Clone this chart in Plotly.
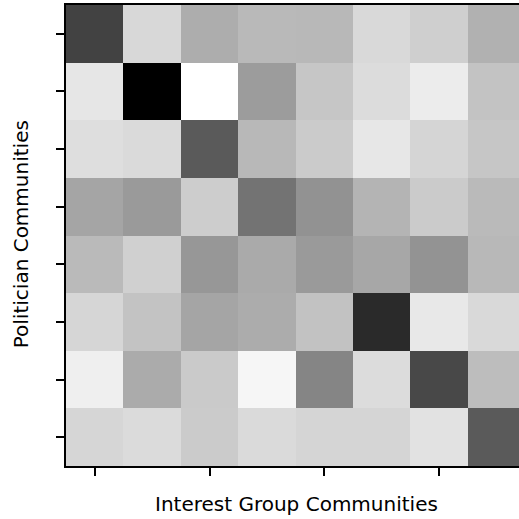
import plotly.graph_objects as go

# Gray level of each cell (0 = black, 255 = white)
row_labels = ["P0", "P1", "P2", "P3", "P4", "P5", "P6", "P7"]
col_labels = ["G0", "G1", "G2", "G3", "G4", "G5", "G6", "G7"]
row0 = [66, 216, 173, 185, 184, 217, 207, 177]
row1 = [230, 0, 255, 156, 198, 220, 236, 195]
row2 = [222, 218, 90, 184, 203, 231, 213, 198]
row3 = [165, 154, 205, 115, 146, 180, 203, 186]
row4 = [186, 208, 151, 170, 154, 167, 147, 184]
row5 = [214, 195, 165, 172, 194, 42, 232, 217]
row6 = [239, 171, 202, 246, 133, 220, 72, 189]
row7 = [214, 219, 203, 218, 213, 213, 226, 90]
x_tick_positions = [0, 2, 4, 6]
y_tick_positions = [0, 1, 2, 3, 4, 5, 6, 7]
x_title = "Interest Group Communities"
y_title = "Politician Communities"

z = [row0, row1, row2, row3, row4, row5, row6, row7]

fig = go.Figure(go.Heatmap(
    z=z,
    x=list(range(len(col_labels))),
    y=list(range(len(row_labels))),
    colorscale=[[0, "black"], [1, "white"]],
    zmin=0, zmax=255,
    showscale=False,
    hoverinfo="skip",
))

font = "DejaVu Sans"
fig.update_layout(
    width=519, height=519,
    margin=dict(l=66, r=0, t=5, b=53, autoexpand=False),
    paper_bgcolor="white", plot_bgcolor="white",
    font=dict(family=font, color="black"),
)
fig.update_xaxes(
    range=[-0.5, 7.39], automargin=False,
    tickvals=x_tick_positions, showticklabels=False,
    ticks="outside", ticklen=8, tickwidth=2, tickcolor="black",
    showline=True, linewidth=2, linecolor="black", mirror=True,
    showgrid=False, zeroline=False,
)
fig.update_yaxes(
    range=[7.5, -0.5], automargin=False,
    tickvals=y_tick_positions, showticklabels=False,
    ticks="outside", ticklen=8, tickwidth=2, tickcolor="black",
    showline=True, linewidth=2, linecolor="black",
    showgrid=False, zeroline=False,
)
fig.add_annotation(
    text=x_title, xref="paper", yref="paper",
    x=0.508, y=-0.082, xanchor="center", yanchor="middle",
    showarrow=False, font=dict(size=20, family=font, color="black"),
)
fig.add_annotation(
    text=y_title, xref="paper", yref="paper", textangle=-90,
    x=-0.099, y=0.503, xanchor="center", yanchor="middle",
    showarrow=False, font=dict(size=20, family=font, color="black"),
)

fig.write_html(
    "out.html",
    config={"displayModeBar": False},
    post_script="document.body.style.margin='0';document.body.style.overflow='hidden';",
)
